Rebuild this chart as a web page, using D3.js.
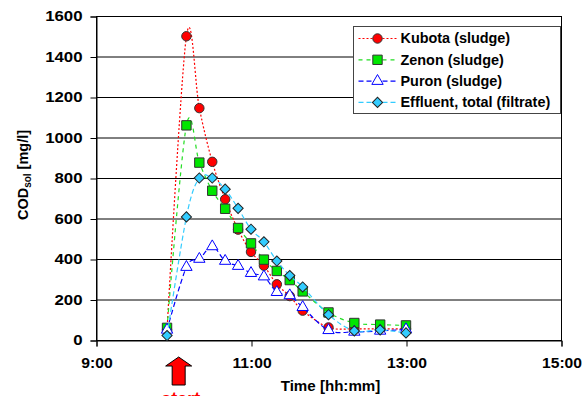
<!DOCTYPE html>
<html>
<head>
<meta charset="utf-8">
<script src="https://cdn.jsdelivr.net/npm/d3@7"></script>
<style>
  body { margin: 0; background: #fff; }
  svg text { font-family: "Liberation Sans", Arial, sans-serif; font-weight: bold; }
</style>
</head>
<body>
<div class="chart"></div>
<script>
// sampling times and COD values (mg/l)
const times = ['9:55', '10:10', '10:20', '10:30', '10:40', '10:50', '11:00', '11:10',
  '11:20', '11:30', '11:40', '12:00', '12:20', '12:40', '13:00'];
const kubota = [50, 1500, 1145, 880, 695, 545, 435, 367, 275, 217, 145, 62, 55, 55, 55];
const zenon = [60, 1060, 876, 737, 648, 553, 477, 397, 341, 296, 240, 136, 84, 76, 72];
const puron = [50, 360, 400, 462, 390, 365, 330, 313, 236, 220, 162, 48, 40, 45, 52];
const effluent = [22, 608, 800, 800, 745, 650, 547, 485, 390, 318, 262, 125, 45, 50, 35];

const seriesNames = ['Kubota (sludge)', 'Zenon (sludge)', 'Puron (sludge)', 'Effluent, total (filtrate)'];
const xTicks = ['9:00', '11:00', '13:00', '15:00'];
const yTicks = [0, 200, 400, 600, 800, 1000, 1200, 1400, 1600];
const startTime = '10:04';

const width = 587;
const height = 396;
const margin = { top: 16, right: 26, bottom: 56, left: 96 };

const parse = d3.timeParse('%H:%M');

const x = d3.scaleTime()
  .domain([parse('9:00'), parse('15:00')])
  .range([margin.left, width - margin.right]);

const y = d3.scaleLinear()
  .domain([0, 1600])
  .range([height - margin.bottom, margin.top]);

const svg = d3.select('.chart')
  .append('svg')
  .attr('width', width)
  .attr('height', height);

// the original's lettering is a little wider than Arial
function stretch(sel, k) {
  sel.each(function () {
    const t = d3.select(this);
    const x0 = +(t.attr('x') || 0);
    t.attr('x', x0 / k).attr('transform', 'scale(' + k + ',1)');
  });
}

// horizontal grid
svg.append('g')
  .selectAll('line')
  .data(yTicks.slice(1))
  .enter()
  .append('line')
  .attr('x1', margin.left)
  .attr('x2', width - margin.right)
  .attr('y1', d => y(d) + 0.5)
  .attr('y2', d => y(d) + 0.5)
  .attr('stroke', '#000');

// plot frame
svg.append('rect')
  .attr('x', margin.left + 0.5)
  .attr('y', y(1600) + 0.5)
  .attr('width', x.range()[1] - x.range()[0])
  .attr('height', y(0) - y(1600))
  .attr('fill', 'none')
  .attr('stroke', '#000');

const yAxis = svg.append('g')
  .attr('transform', 'translate(' + (margin.left + 0.5) + ',0.5)')
  .call(d3.axisLeft(y).tickValues(yTicks).tickFormat(d3.format('d')).tickSize(6).tickPadding(8));

const xAxis = svg.append('g')
  .attr('transform', 'translate(0.5,' + (y(0) + 0.5) + ')')
  .call(d3.axisBottom(x)
    .tickValues(xTicks.map(parse))
    .tickFormat(d3.timeFormat('%-H:%M'))
    .tickSize(6)
    .tickPadding(12));

[yAxis, xAxis].forEach(g => {
  g.select('.domain').attr('stroke', '#000');
  g.selectAll('.tick line').attr('stroke', '#000');
  g.selectAll('.tick text')
    .attr('fill', '#000')
    .style('font-size', '14px');
});
stretch(yAxis.selectAll('.tick text'), 1.2);
stretch(xAxis.selectAll('.tick text'), 1.12);

// series
const series = [
  { name: seriesNames[0], values: kubota, line: '#ff0000', dash: '2,2', shape: 'circle', fill: '#ff0000', stroke: '#333' },
  { name: seriesNames[1], values: zenon, line: '#22dd22', dash: '4,4', shape: 'square', fill: '#00e600', stroke: '#333' },
  { name: seriesNames[2], values: puron, line: '#0000ff', dash: '5,3', shape: 'triangle', fill: '#fff', stroke: '#0000ff' },
  { name: seriesNames[3], values: effluent, line: '#33ccff', dash: '5,3', shape: 'diamond', fill: '#33ccff', stroke: '#222' }
];

const symbols = {
  circle: d3.symbol().type(d3.symbolCircle).size(70),
  square: d3.symbol().type(d3.symbolSquare).size(88),
  triangle: d3.symbol().type(d3.symbolTriangle).size(56),
  diamond: d3.symbol().type(d3.symbolSquare).size(52)
};

function markerTransform(shape, px, py) {
  return 'translate(' + px + ',' + py + ')' + (shape === 'diamond' ? ' rotate(45)' : '');
}

const line = d3.line()
  .x(d => x(d.t))
  .y(d => y(d.v))
  .curve(d3.curveCardinal);

series.forEach(s => {
  const pts = times.map((t, i) => ({ t: parse(t), v: s.values[i] }));
  const g = svg.append('g');

  g.append('path')
    .datum(pts)
    .attr('d', line)
    .attr('fill', 'none')
    .attr('stroke', s.line)
    .attr('stroke-width', 1.2)
    .attr('stroke-dasharray', s.dash);

  g.selectAll('.marker')
    .data(pts)
    .enter()
    .append('path')
    .attr('class', 'marker')
    .attr('transform', d => markerTransform(s.shape, x(d.t), y(d.v)))
    .attr('d', symbols[s.shape])
    .attr('fill', s.fill)
    .attr('stroke', s.stroke)
    .attr('stroke-width', 1);
});

// legend
const legend = svg.append('g').attr('transform', 'translate(353.5,26.5)');
legend.append('rect')
  .attr('width', 207)
  .attr('height', 87)
  .attr('fill', '#fff')
  .attr('stroke', '#444');

const rows = legend.selectAll('.row')
  .data(series)
  .enter()
  .append('g')
  .attr('class', 'row')
  .attr('transform', (d, i) => 'translate(0,' + (12 + i * 21.3) + ')');

rows.append('line')
  .attr('x1', 5)
  .attr('x2', 43)
  .attr('stroke', d => d.line)
  .attr('stroke-width', 1.2)
  .attr('stroke-dasharray', d => d.dash);

rows.append('path')
  .attr('transform', d => markerTransform(d.shape, 24, 0))
  .attr('d', d => symbols[d.shape]())
  .attr('fill', d => d.fill)
  .attr('stroke', d => d.stroke);

rows.append('text')
  .attr('x', 47)
  .attr('dy', '0.35em')
  .style('font-size', '14px')
  .text(d => d.name);
stretch(rows.selectAll('text'), 1.03);

// axis titles
svg.append('text')
  .attr('transform', 'translate(28,' + 175 + ') rotate(-90)')
  .attr('text-anchor', 'middle')
  .style('font-size', '14.5px')
  .call(t => {
    t.append('tspan').text('COD');
    t.append('tspan').style('font-size', '10px').attr('dy', 3).text('sol');
    t.append('tspan').attr('dy', -3).text(' [mg/l]');
  });

svg.append('text')
  .attr('x', (x.range()[0] + x.range()[1]) / 2 + 2)
  .attr('y', 391)
  .attr('text-anchor', 'middle')
  .style('font-size', '14px')
  .text('Time [hh:mm]')
  .call(t => stretch(t, 1.08));

// start arrow
const ax = x(parse(startTime));
svg.append('path')
  .attr('d', 'M' + ax + ',357 L' + (ax + 13) + ',366 L' + (ax + 6.5) + ',366 L' + (ax + 6.5) + ',385 L' +
    (ax - 6.5) + ',385 L' + (ax - 6.5) + ',366 L' + (ax - 13) + ',366 Z')
  .attr('fill', '#ff0000')
  .attr('stroke', '#000')
  .attr('stroke-width', 1);

svg.append('text')
  .attr('x', ax + 2)
  .attr('y', 405)
  .attr('text-anchor', 'middle')
  .attr('fill', '#ff0000')
  .style('font-size', '18px')
  .text('start');
</script>
</body>
</html>
